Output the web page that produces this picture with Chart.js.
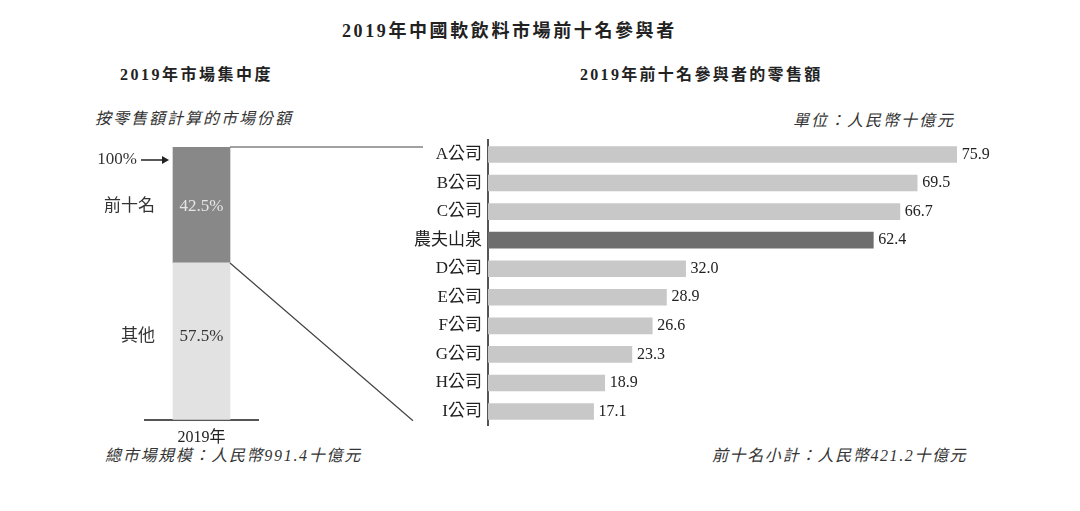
<!DOCTYPE html>
<html>
<head>
<meta charset="utf-8">
<script src="https://cdn.jsdelivr.net/npm/chart.js@4/dist/chart.umd.min.js"></script>
<style>
    body { margin: 0; background: #fff; }
    #page { position: relative; width: 1080px; height: 511px; overflow: hidden;
            font-family: 'Liberation Serif', 'Noto Sans CJK TC', serif; color: #222; }
    .txt { position: absolute; white-space: nowrap; line-height: 1; }
    .bold { font-weight: bold; }
    .it { font-style: italic; color: #333; }
    canvas { position: absolute; }
</style>
</head>
<body>
<div id="page">
    <div class="txt bold" style="left:342px; top:22px; font-size:18px; letter-spacing:2.6px;">2019年中國軟飲料市場前十名參與者</div>

    <div class="txt bold" style="left:120px; top:67px; font-size:16px; letter-spacing:2.5px;">2019年市場集中度</div>
    <div class="txt it" style="left:95px; top:111px; font-size:16px; letter-spacing:2px;">按零售額計算的市場份額</div>
    <div class="txt it" style="left:105px; top:448px; font-size:16px; letter-spacing:1.7px;">總市場規模：人民幣991.4十億元</div>

    <div class="txt bold" style="left:580px; top:67px; font-size:16px; letter-spacing:2.3px;">2019年前十名參與者的零售額</div>
    <div class="txt it" style="right:125px; top:113px; font-size:16px; letter-spacing:2px;">單位：人民幣十億元</div>
    <div class="txt it" style="left:712px; top:448px; font-size:16px; letter-spacing:1.6px;">前十名小計：人民幣421.2十億元</div>

    <canvas id="share-chart" style="left:90px; top:140px;" width="175" height="315"></canvas>
    <canvas id="sales-chart" style="left:398px; top:124px;" width="602" height="318"></canvas>
    <canvas id="link-lines" style="left:0; top:0; pointer-events:none;" width="1080" height="511"></canvas>
</div>

<script>
// Chart data
const shareLabels = ['2019年'];
const shareSeries = ['其他', '前十名'];
const shareValues = [57.5, 42.5];

const companies = ['A公司', 'B公司', 'C公司', '農夫山泉', 'D公司', 'E公司', 'F公司', 'G公司', 'H公司', 'I公司'];
const retailSales = [75.9, 69.5, 66.7, 62.4, 32.0, 28.9, 26.6, 23.3, 18.9, 17.1];
const highlightCompany = '農夫山泉';

const FONT = "'Liberation Serif', 'Noto Sans CJK TC', serif";
Chart.defaults.font.family = FONT;
Chart.defaults.color = '#222';
Chart.defaults.animation = false;

// Labels inside and beside the stacked share bar
const shareLabelPlugin = {
    id: 'shareLabels',
    afterDatasetsDraw(chart) {
        const ctx = chart.ctx;
        ctx.save();
        ctx.font = `17px ${FONT}`;
        ctx.textBaseline = 'middle';
        chart.data.datasets.forEach((ds, i) => {
            const bar = chart.getDatasetMeta(i).data[0];
            const midY = (bar.y + bar.base) / 2 + (i === 0 ? -5 : 2);
            ctx.textAlign = 'center';
            ctx.fillStyle = i === 1 ? '#e6e6e6' : '#333';
            ctx.fillText(ds.data[0].toFixed(1) + '%', bar.x, midY);
            ctx.textAlign = 'right';
            ctx.fillStyle = '#333';
            ctx.fillText(ds.label, bar.x - bar.width / 2 - 18, midY);
        });

        // 100% marker with arrow
        const bar = chart.getDatasetMeta(1).data[0];
        const topY = chart.scales.y.getPixelForValue(100) + 13;
        const left = bar.x - bar.width / 2;
        ctx.textAlign = 'right';
        ctx.fillText('100%', left - 36, topY);
        ctx.strokeStyle = '#222';
        ctx.lineWidth = 1.5;
        ctx.beginPath();
        ctx.moveTo(left - 32, topY);
        ctx.lineTo(left - 8, topY);
        ctx.stroke();
        ctx.fillStyle = '#222';
        ctx.beginPath();
        ctx.moveTo(left - 4, topY);
        ctx.lineTo(left - 11, topY - 4);
        ctx.lineTo(left - 11, topY + 4);
        ctx.closePath();
        ctx.fill();
        ctx.restore();
    }
};

// Value labels at the end of each sales bar
const valueLabelPlugin = {
    id: 'valueLabels',
    afterDatasetsDraw(chart) {
        const ctx = chart.ctx;
        const meta = chart.getDatasetMeta(0);
        ctx.save();
        ctx.font = `16px ${FONT}`;
        ctx.fillStyle = '#222';
        ctx.textAlign = 'left';
        ctx.textBaseline = 'middle';
        meta.data.forEach((bar, i) => {
            ctx.fillText(retailSales[i].toFixed(1), bar.x + 5, bar.y);
        });
        ctx.restore();
    }
};

const shareChart = new Chart(document.getElementById('share-chart'), {
    type: 'bar',
    data: {
        labels: shareLabels,
        datasets: [
            { label: shareSeries[0], data: [shareValues[0]], backgroundColor: '#e1e2e1' },
            { label: shareSeries[1], data: [shareValues[1]], backgroundColor: '#888888' }
        ]
    },
    options: {
        responsive: false,
        layout: { padding: { left: 55, right: 7, top: 7, bottom: 0 } },
        plugins: { legend: { display: false }, tooltip: { enabled: false } },
        datasets: { bar: { barThickness: 57 } },
        scales: {
            x: {
                stacked: true,
                grid: { display: false, drawTicks: false },
                border: { display: true, color: '#555', width: 2 },
                ticks: { font: { size: 16 }, color: '#222', padding: 8 }
            },
            y: {
                stacked: true,
                display: false,
                min: 0,
                max: 100
            }
        }
    },
    plugins: [shareLabelPlugin]
});

const salesChart = new Chart(document.getElementById('sales-chart'), {
    type: 'bar',
    data: {
        labels: companies,
        datasets: [{
            label: '零售額',
            data: retailSales,
            backgroundColor: companies.map(c => c === highlightCompany ? '#6e6e6e' : '#c8c8c8'),
            barThickness: 16
        }]
    },
    options: {
        responsive: false,
        indexAxis: 'y',
        layout: { padding: { left: 0, right: 18, top: 9, bottom: 7 } },
        plugins: { legend: { display: false }, tooltip: { enabled: false } },
        scales: {
            x: { display: false, min: 0, max: 80 },
            y: {
                grid: { display: false, drawTicks: false },
                border: { display: true, color: '#555', width: 2 },
                ticks: { font: { size: 17 }, color: '#222', padding: 6 },
                afterFit: scale => { scale.width = 90; }
            }
        }
    },
    plugins: [valueLabelPlugin]
});

// Connector lines from the top-ten segment to the sales chart
function drawLinks() {
    const page = document.getElementById('page').getBoundingClientRect();
    const leftBox = shareChart.canvas.getBoundingClientRect();
    const rightBox = salesChart.canvas.getBoundingClientRect();
    const topBar = shareChart.getDatasetMeta(1).data[0];

    const x0 = leftBox.left - page.left + topBar.x + topBar.width / 2;
    const yTop = leftBox.top - page.top + topBar.y;
    const ySplit = leftBox.top - page.top + topBar.base;
    const area = salesChart.chartArea;
    const axisX = rightBox.left - page.left + area.left;
    const axisBottom = rightBox.top - page.top + area.bottom;

    const ctx = document.getElementById('link-lines').getContext('2d');
    ctx.strokeStyle = '#444';
    ctx.lineWidth = 1.2;
    ctx.beginPath();
    ctx.moveTo(x0, yTop);
    ctx.lineTo(axisX - 65, yTop);
    ctx.moveTo(x0, ySplit);
    ctx.lineTo(axisX - 75, axisBottom - 5);
    ctx.stroke();
}
drawLinks();
</script>
</body>
</html>
